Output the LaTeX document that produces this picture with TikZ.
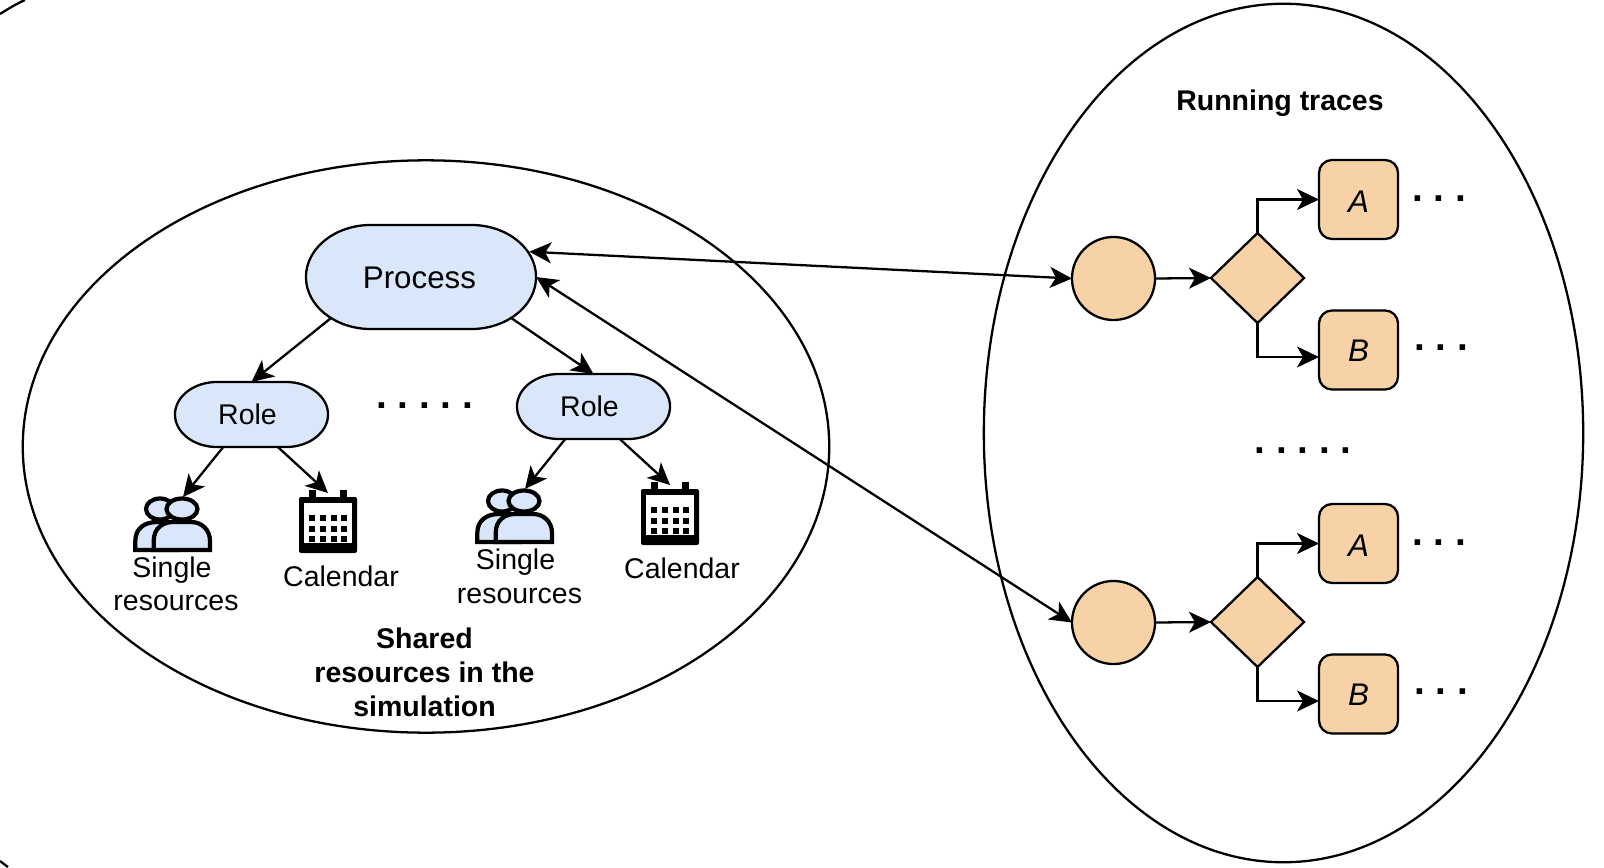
\documentclass[tikz,border=0pt]{standalone}
\usepackage{fontspec}
\setmainfont{Liberation Sans}
\usepackage{tikz}
\usetikzlibrary{arrows.meta,positioning,calc,shapes.geometric,backgrounds}
\definecolor{rsbleu}{HTML}{DAE6F9}
\definecolor{rsorange}{HTML}{F7D2A6}
\tikzset{
  every node/.style={inner sep=0pt, outer sep=0pt},
  tip/.style={line width=0.65pt},
  link/.style={tip, -{Stealth[length=0.22cm,width=0.21cm,inset=0.06cm]}},
  bothlink/.style={tip, {Stealth[length=0.22cm,width=0.21cm,inset=0.06cm]}-{Stealth[length=0.22cm,width=0.21cm,inset=0.06cm]}},
  area/.style={draw, ellipse, line width=0.65pt},
  rolebox/.style={minimum width=1.53cm, minimum height=0.65cm, text height=5.9pt, text depth=0pt,
                  font=\fontsize{8.1}{9.7}\selectfont},
  startcircle/.style={draw, circle, fill=rsorange, line width=0.65pt, minimum size=0.83cm},
  choice/.style={draw, diamond, fill=rsorange, line width=0.65pt, minimum width=0.93cm, minimum height=0.90cm},
  taskbox/.style={draw, rounded corners=0.13cm, fill=rsorange, line width=0.65pt,
                  minimum size=0.79cm, text height=7.5pt, text depth=0pt,
                  font=\fontsize{8.9}{10}\selectfont\itshape},
  lbl/.style={font=\fontsize{8.1}{9.5}\selectfont, align=center},
  boldlbl/.style={font=\fontsize{8.1}{9.7}\selectfont\bfseries, align=center},
  dotslbl/.style={font=\fontsize{#1}{12}\selectfont\bfseries\frenchspacing},
  pics/usersicon/.style={code={
    % back person, then front person
    \draw[fill=rsbleu, line width=1.2pt] (2.3,54) -- (2.3,45) .. controls (2.3,32) and (12,26) .. (24,26) -- (45,26) -- (45,54) -- cycle;
    \draw[fill=rsbleu, line width=1.2pt] (27,13) ellipse [x radius=0.14cm, y radius=0.105cm];
    \draw[fill=rsbleu, line width=1.2pt] (20.7,54) -- (20.7,45) .. controls (20.7,32) and (30,26) .. (40,26) -- (58,26)
       .. controls (69,26) and (77,34) .. (77,45) -- (77,54) -- cycle;
    \draw[fill=rsbleu, line width=1.2pt] (49,13) ellipse [x radius=0.155cm, y radius=0.105cm];
  }},
  pics/calendaricon/.style={code={
    \fill[black, rounded corners=0.02cm] (0,7) rectangle (58,63);
    \fill[white] (5,13) rectangle (53,53);
    \foreach \rsx in {10,41}{
      \fill[white] (\rsx-2,0) rectangle (\rsx+9,7);
      \fill[black] (\rsx,0) rectangle (\rsx+7,10);
    }
    \foreach \rsx in {10,21,32,42}{
      \foreach \rsy in {25,36,46}{
        \fill[black] (\rsx,\rsy) rectangle (\rsx+6,\rsy+6);
      }
    }
  }}
}
% blue outline with elliptical ends, behind a node
\newcommand{\capsule}[3]{
  \begin{scope}[on background layer]
    \draw[fill=rsbleu, line width=0.65pt] ([xshift=#2]#1.north west) -- ([xshift=-#2]#1.north east)
      arc[start angle=90, end angle=-90, x radius=#2, y radius=#3]
      -- ([xshift=#2]#1.south west)
      arc[start angle=270, end angle=90, x radius=#2, y radius=#3] -- cycle;
  \end{scope}
}
\begin{document}
\begin{tikzpicture}[x=0.01cm,y=-0.01cm]
  \useasboundingbox (0,0) rectangle (1604,867);

  % Outer frame, corners only
  \draw[line width=0.65pt] (0,14) .. controls (8,9) and (16,4) .. (25,0);
  \draw[line width=0.65pt] (0,861) .. controls (3,863) and (5,865) .. (8,867);

  % Areas
  \node[area, minimum width=8.06cm, minimum height=5.72cm] (shared) at (426,446.5) {};
  \node[area, minimum width=5.99cm, minimum height=8.58cm] (traces) at (1283.5,433) {};
  \node[boldlbl] (tracestitle) at (1280,103) {Running traces};
  \node[boldlbl] (sharedtitle) at (424.5,672) {Shared\\resources in the\\simulation};

  % Process and roles
  \node[rolebox, minimum width=2.30cm, minimum height=1.04cm, text height=6.6pt, font=\fontsize{8.9}{10}\selectfont] (process) at (421,277) {Process\hspace*{.1em}};
  \node[rolebox] (roleA) at (251.5,414.5) {Role\hspace*{.28em}};
  \node[rolebox] (roleB) at (593.5,406.5) {Role\hspace*{.28em}};
  \capsule{process}{0.65cm}{0.52cm}
  \capsule{roleA}{0.42cm}{0.325cm}
  \capsule{roleB}{0.42cm}{0.325cm}
  \node[dotslbl=11] (roledots) at (424.5,406) {. . . . .};
  \coordinate (processNE) at (529.3,251.7);
  \coordinate (processSW) at (330.7,318.3);
  \coordinate (processSE) at (510.7,317.7);

  % Icons
  \pic at (133,496) {usersicon};
  \pic at (299,490) {calendaricon};
  \pic at (475,488) {usersicon};
  \pic at (641,482) {calendaricon};
  \coordinate (usersA) at (183,497);
  \coordinate (calA) at (328,493);
  \coordinate (usersB) at (525,489);
  \coordinate (calB) at (670,485);

  % Labels
  \node[lbl] (singleA) at (176,584) {Single\hspace*{.28em}\\resources};
  \node[lbl] (calnameA) at (341,576) {Calendar};
  \node[lbl] (singleB) at (519.5,576.5) {Single\hspace*{.28em}\\resources};
  \node[lbl] (calnameB) at (682,568) {Calendar};

  % First trace
  \node[startcircle] (startA) at (1113.5,278.5) {};
  \node[choice] (choiceA) at (1257.5,278) {};
  \node[taskbox] (taskAa) at (1358.5,199.5) {A};
  \node[taskbox, text height=6.3pt] (taskAb) at (1358.5,350) {B};
  \node[dotslbl=11] (dotsAa) at (1439,199) {. . .};
  \node[dotslbl=11] (dotsAb) at (1441,347.5) {. . .};

  \node[dotslbl=11] (tracedots) at (1303,450.5) {. . . . .};

  % Second trace
  \node[startcircle] (startB) at (1113.5,622.5) {};
  \node[choice] (choiceB) at (1257.5,622) {};
  \node[taskbox] (taskBa) at (1358.5,543.5) {A};
  \node[taskbox, text height=6.3pt] (taskBb) at (1358.5,694) {B};
  \node[dotslbl=11] (dotsBa) at (1439,542.5) {. . .};
  \node[dotslbl=11] (dotsBb) at (1441,691.5) {. . .};

  % Connectors
  \draw[link] (processSW) -- (roleA.north);
  \draw[link] (processSE) -- (roleB.north);
  \draw[link] (roleA.229) -- (usersA);
  \draw[link] (roleA.-51) -- (calA);
  \draw[link] (roleB.229) -- (usersB);
  \draw[link] (roleB.-51) -- (calB);

  \draw[bothlink] (processNE) -- (startA.west);
  \draw[bothlink] (process.east) -- (startB.west);

  \draw[link] (startA.east) -- (choiceA.west);
  \draw[link] (choiceA.north) |- (taskAa.west);
  \draw[link] (choiceA.south) |- ([yshift=-0.07cm]taskAb.west);
  \draw[link] (startB.east) -- (choiceB.west);
  \draw[link] (choiceB.north) |- (taskBa.west);
  \draw[link] (choiceB.south) |- ([yshift=-0.07cm]taskBb.west);
\end{tikzpicture}
\end{document}
